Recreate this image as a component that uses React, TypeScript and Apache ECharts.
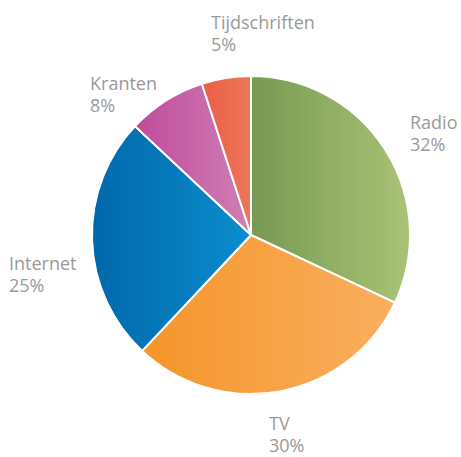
import React, { useEffect, useRef } from "react";
import * as echarts from "echarts";

const categories = ["Radio", "TV", "Internet", "Kranten", "Tijdschriften"];
const values = [32, 30, 25, 8, 5];

const gradientStops: [string, string][] = [
  ["#789952", "#a9c376"],
  ["#f5952a", "#f9af5f"],
  ["#0068ab", "#0b8dcd"],
  ["#bf4b9b", "#d07fb5"],
  ["#e95f47", "#ee7659"],
];

const labelAnchors: [number, number][] = [
  [410, 111],
  [269, 412],
  [9, 252],
  [90, 72],
  [211, 11],
];

export default function App() {
  const ref = useRef<HTMLDivElement>(null);
  useEffect(() => {
    document.body.style.margin = "0";
    if (!ref.current) return;
    const chart = echarts.init(ref.current, undefined, { renderer: "svg" });
    chart.setOption({
      animation: false,
      backgroundColor: "#ffffff",
      series: [
        {
          type: "pie",
          center: [251, 235],
          radius: 159,
          startAngle: 90,
          clockwise: true,
          data: categories.map((name, i) => ({
            name,
            value: values[i],
            itemStyle: {
              color: new echarts.graphic.LinearGradient(0, 0, 1, 0, [
                { offset: 0, color: gradientStops[i][0] },
                { offset: 1, color: gradientStops[i][1] },
              ]),
            },
          })),
          itemStyle: { borderColor: "#ffffff", borderWidth: 2 },
          label: {
            show: true,
            position: "outside",
            formatter: "{b}\n{c}%",
            color: "#9a9a9a",
            fontFamily: "Open Sans",
            fontSize: 18,
            lineHeight: 22,
            align: "left",
            overflow: "none",
            width: 200,
          },
          labelLine: { show: false },
          labelLayout: (params: any) => ({
            x: labelAnchors[params.dataIndex][0],
            y: labelAnchors[params.dataIndex][1],
            align: "left",
            verticalAlign: "top",
          }),
          emphasis: { disabled: true },
        },
      ],
    });
    return () => chart.dispose();
  }, []);
  return <div ref={ref} style={{ width: 461, height: 457 }} />;
}
